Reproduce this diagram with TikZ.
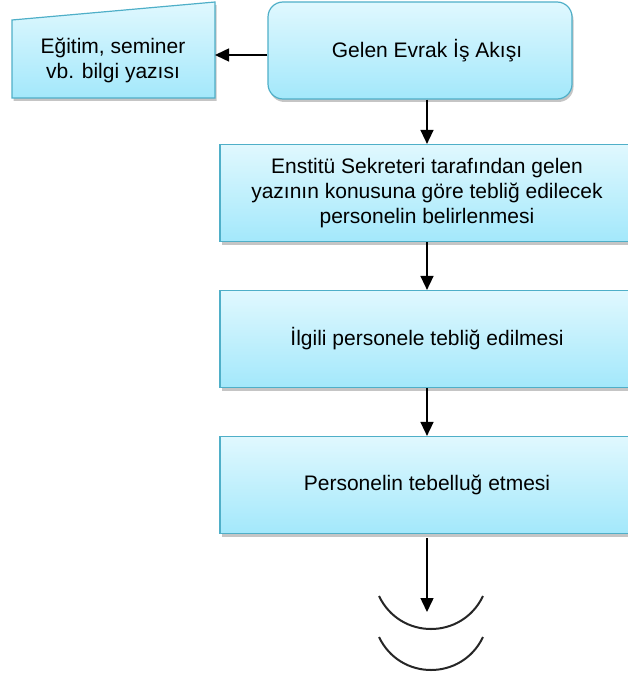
\documentclass[tikz,border=0pt]{standalone}
\usepackage{fontspec}
\setmainfont{Liberation Sans}
\usetikzlibrary{shadows,arrows.meta}
\definecolor{bordc}{HTML}{4FAFC8}
\definecolor{topc}{HTML}{E0F8FE}
\definecolor{botc}{HTML}{A3E8FB}
\tikzset{
  boxstyle/.style={draw=bordc, line width=1.2pt, top color=topc, bottom color=botc,
    drop shadow={shadow xshift=1.5pt, shadow yshift=-3pt, fill=black!45, opacity=0.5}},
  lbl/.style={font=\fontsize{21}{25}\selectfont, align=center, text=black},
  arr/.style={-{Triangle[length=14pt,width=13pt]}, line width=1.5pt, black},
  arc/.style={line width=2pt, black!85}
}
\begin{document}
\begin{tikzpicture}[x=1pt,y=-1pt]
\useasboundingbox (0,0) rectangle (627,682);
% manual input shape
\path[boxstyle] (12,20) -- (215,2) -- (215,98) -- (12,98) -- cycle;
\node[lbl] (edu) at (113,60) {Eğitim, seminer\\vb. bilgi yazısı};
\coordinate (eduR) at (215,55);
% top rounded box
\node[boxstyle, rounded corners=15pt, minimum width=304pt, minimum height=97pt, lbl] (start) at (420,50.5) {\hspace*{14pt}Gelen Evrak İş Akışı};
% boxes (right edge runs past the page)
\node[boxstyle, minimum width=414pt, minimum height=97pt, lbl] (b1) at (427,193) {Enstitü Sekreteri tarafından gelen\\yazının konusuna göre tebliğ edilecek\\personelin belirlenmesi};
\node[boxstyle, minimum width=414pt, minimum height=97pt, lbl] (b2) at (427,339) {İlgili personele tebliğ edilmesi};
\node[boxstyle, minimum width=414pt, minimum height=97pt, lbl] (b3) at (427,485) {Personelin tebelluğ etmesi};
% arrows
\draw[arr] (start.west |- eduR) -- (eduR);
\draw[arr] (start.south -| b1.north) -- (b1.north);
\draw[arr] (b1.south) -- (b2.north);
\draw[arr] (b2.south) -- (b3.north);
\coordinate (endt) at (427,612);
\draw[arr] ([yshift=-4pt]b3.south) -- (endt);
% continuation arcs
\draw[arc] (379,596) .. controls (400,640) and (462,640) .. (483,596);
\draw[arc] (379,637) .. controls (400,681) and (462,681) .. (483,637);
\end{tikzpicture}
\end{document}
